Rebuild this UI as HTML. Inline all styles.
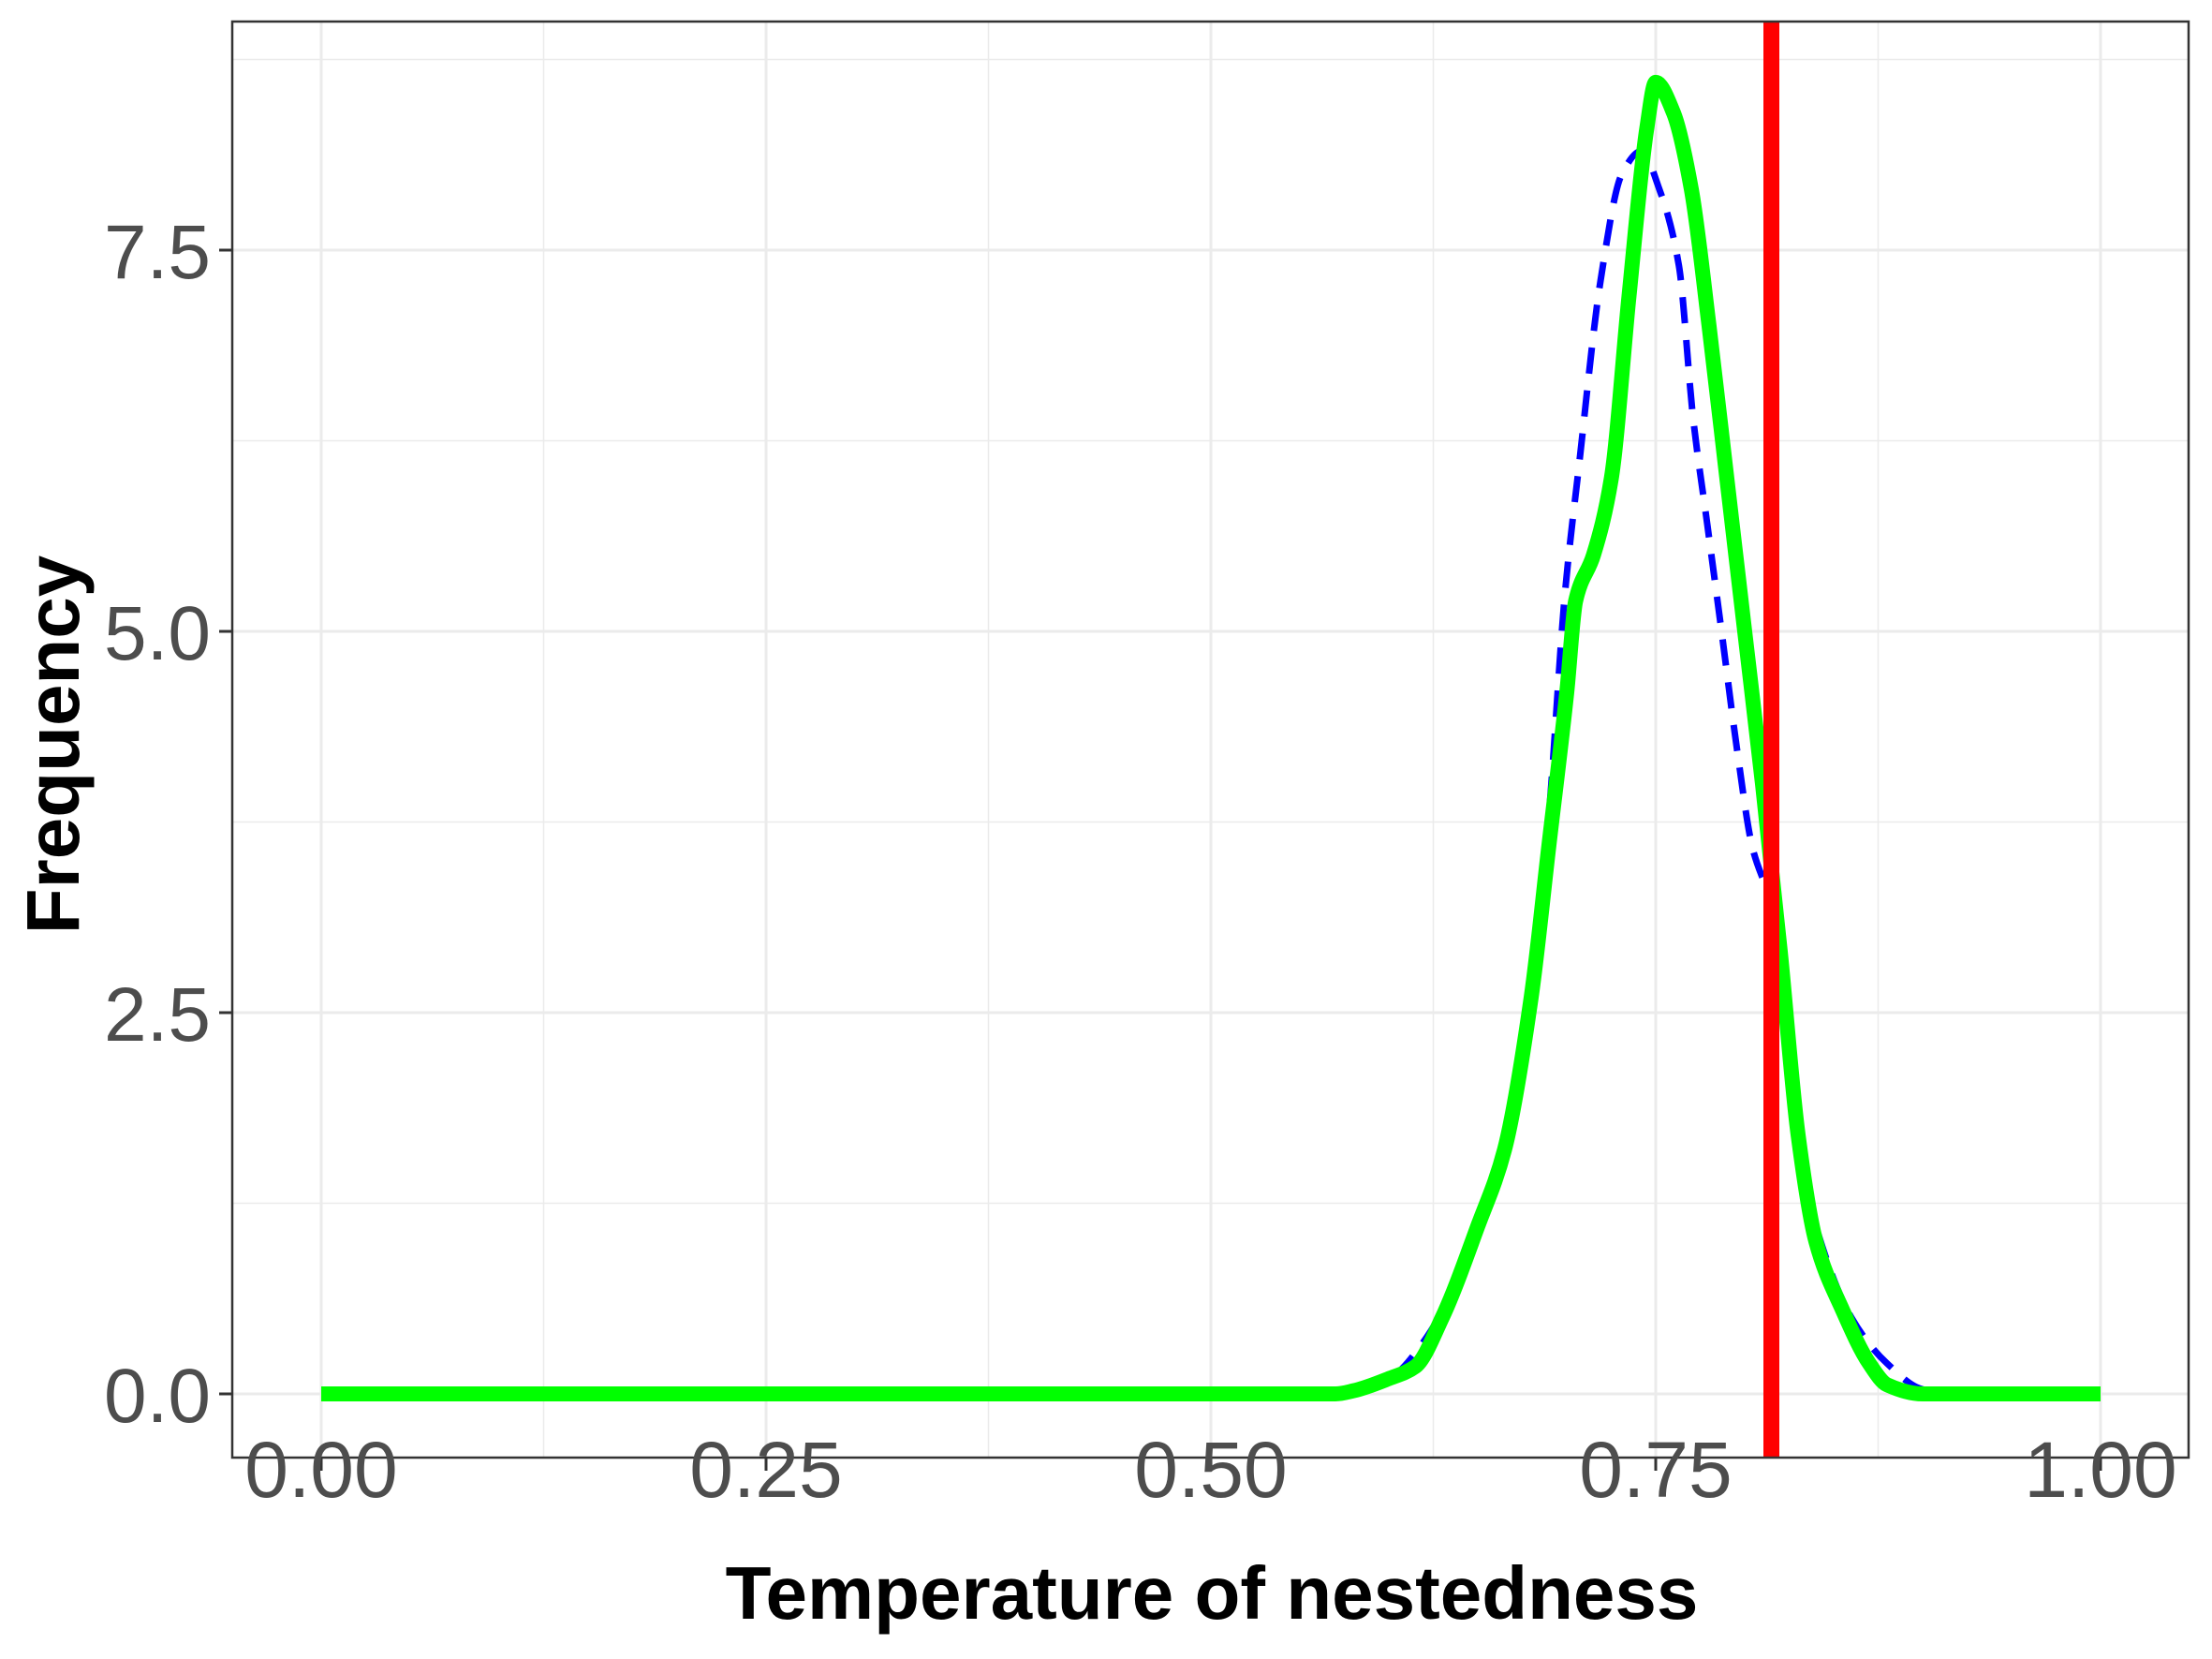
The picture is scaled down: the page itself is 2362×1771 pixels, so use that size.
<!DOCTYPE html>
<html><head><meta charset="utf-8"><style>
html,body{margin:0;padding:0;background:#fff}
svg{display:block}
text{font-family:"Liberation Sans",Arial,sans-serif}
</style></head><body>
<svg id="chart" width="2362" height="1771" viewBox="0 0 2362 1771">
<rect width="2362" height="1771" fill="#fff"/>
<g id="grid"></g>
<g id="series"></g>
<rect x="248" y="23" width="2089" height="1533" fill="none" stroke="#333" stroke-width="2.5"/>
<g id="axes"></g>
<text x="1294" y="1728" text-anchor="middle" font-size="80" font-weight="bold" fill="#000">Temperature of nestedness</text>
<text transform="translate(84,795) rotate(-90)" text-anchor="middle" font-size="80" font-weight="bold" fill="#000">Frequency</text>
</svg>
<script>
const xTicks=[0,0.25,0.5,0.75,1];
const xTickLabels=["0.00","0.25","0.50","0.75","1.00"];
const yTicks=[0,2.5,5,7.5];
const yTickLabels=["0.0","2.5","5.0","7.5"];
const greenX=[0,0.57,0.58,0.60,0.615,0.63,0.65,0.665,0.68,0.69,0.70,0.705,0.715,0.725,0.735,0.745,0.75,0.76,0.77,0.78,0.79,0.80,0.81,0.82,0.83,0.84,0.855,0.87,0.88,0.90,1];
const greenY=[0,0,0.02,0.1,0.18,0.5,1.1,1.6,2.6,3.6,4.6,5.2,5.5,6.0,7.2,8.3,8.6,8.4,7.9,7.0,6.0,5.0,4.0,2.9,1.7,1.0,0.55,0.2,0.06,0,0];
const blueX=[0,0.57,0.60,0.62,0.65,0.68,0.69,0.699,0.707,0.719,0.731,0.742,0.752,0.763,0.771,0.779,0.787,0.796,0.804,0.815,0.822,0.83,0.84,0.86,0.88,0.90,0.92,1];
const blueY=[0,0,0.1,0.35,1.1,2.6,3.8,5.25,6.1,7.3,8.0,8.15,7.9,7.4,6.4,5.7,5.0,4.2,3.6,3.2,2.7,1.6,1.1,0.5,0.2,0.03,0,0];
const observedX=[0.815];

const NS="http://www.w3.org/2000/svg";
const X0=343,X1=2243,Y0=1488,YS=162.8,PL=248,PR=2337,PT=23,PB=1556;
function sx(v){return X0+v*(X1-X0);}
function sy(v){return Y0-v*YS;}
function mk(tag,attrs,parent){const e=document.createElementNS(NS,tag);for(const k in attrs)e.setAttribute(k,attrs[k]);parent.appendChild(e);return e;}
const grid=document.getElementById('grid'),series=document.getElementById('series'),axes=document.getElementById('axes');
for(let i=0;i<xTicks.length-1;i++){
  const v=(xTicks[i]+xTicks[i+1])/2;
  const l=mk('line',{x1:sx(v),x2:sx(v),y1:PT,y2:PB,stroke:'#ebebeb','stroke-width':1.5},grid);
  
  
}
const yMinor=[1.25,3.75,6.25,8.75];
yMinor.forEach(v=>{
  const l=mk('line',{x1:PL,x2:PR,y1:sy(v),y2:sy(v),stroke:'#ebebeb','stroke-width':1.5},grid);
  
  
});
xTicks.forEach((v,i)=>{
  const l=mk('line',{x1:sx(v),x2:sx(v),y1:PT,y2:PB,stroke:'#ebebeb','stroke-width':3},grid);
  
  
  const t=mk('line',{x1:sx(v),x2:sx(v),y1:PB,y2:PB+14,stroke:'#333','stroke-width':3},axes);
  
  
  const tx=mk('text',{x:sx(v),y:1598,'text-anchor':'middle','font-size':84,fill:'#4d4d4d'},axes);
  tx.textContent=xTickLabels[i];
  
  
});
yTicks.forEach((v,i)=>{
  const l=mk('line',{x1:PL,x2:PR,y1:sy(v),y2:sy(v),stroke:'#ebebeb','stroke-width':3},grid);
  
  
  const t=mk('line',{x1:PL-14,x2:PL,y1:sy(v),y2:sy(v),stroke:'#333','stroke-width':3},axes);
  
  
  const tx=mk('text',{x:225,y:sy(v)+30,'text-anchor':'end','font-size':82,fill:'#4d4d4d'},axes);
  tx.textContent=yTickLabels[i];
  
  
});
function monoPath(xs,ys){
  const n=xs.length,d=[],m=new Array(n);
  for(let i=0;i<n-1;i++)d.push((ys[i+1]-ys[i])/(xs[i+1]-xs[i]));
  m[0]=d[0];m[n-1]=d[n-2];
  for(let i=1;i<n-1;i++){
    if(d[i-1]*d[i]<=0)m[i]=0;
    else{const h0=xs[i]-xs[i-1],h1=xs[i+1]-xs[i];const w1=2*h1+h0,w2=h1+2*h0;m[i]=(w1+w2)/(w1/d[i-1]+w2/d[i]);}
  }
  let s='M'+sx(xs[0])+','+sy(ys[0]);
  for(let i=0;i<n-1;i++){
    const h=xs[i+1]-xs[i];
    const c1x=xs[i]+h/3,c1y=ys[i]+m[i]*h/3,c2x=xs[i+1]-h/3,c2y=ys[i+1]-m[i+1]*h/3;
    s+=' C'+sx(c1x)+','+sy(c1y)+' '+sx(c2x)+','+sy(c2y)+' '+sx(xs[i+1])+','+sy(ys[i+1]);
  }
  return s;
}
const blue=mk('path',{d:monoPath(blueX,blueY),fill:'none',stroke:'#0000ff','stroke-width':7,'stroke-dasharray':'28,18'},series);


const green=mk('path',{d:monoPath(greenX,greenY),fill:'none',stroke:'#00ff00','stroke-width':16,'stroke-linejoin':'round'},series);


observedX.forEach(v=>{
  const r=mk('line',{x1:sx(v),x2:sx(v),y1:PT,y2:PB,stroke:'#ff0000','stroke-width':17},series);
  
  
});
</script>
</body></html>
